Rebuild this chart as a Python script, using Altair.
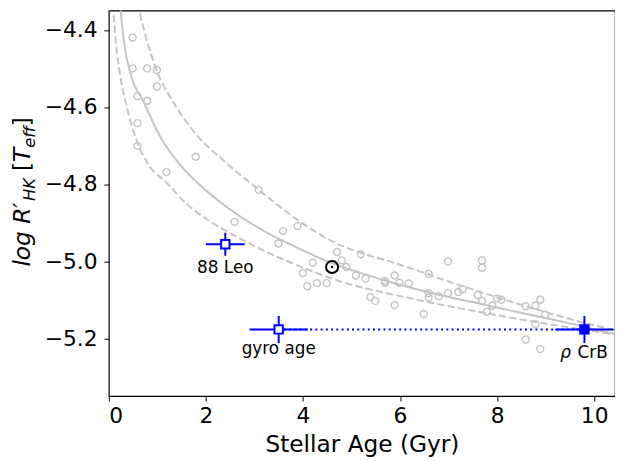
import altair as alt
import pandas as pd

FONT = "DejaVu Sans"
GRAY = "#c4c4c4"
LINEGRAY = "#c4c4c4"
BLUE = "#0000ff"

# ---- background sample of stars (open grey circles) ----
sample_age = [0.49, 0.49, 0.79, 0.99, 0.99, 0.59, 0.79, 0.59, 0.59, 1.79, 1.19,
              3.09, 2.59, 3.59, 3.89, 3.49, 4.70, 5.19, 4.20, 4.80, 4.89, 4.00,
              4.09, 4.29, 4.49, 5.09, 5.29, 5.39, 5.49, 5.69, 5.69, 5.89, 5.99,
              6.18, 5.89, 6.49, 6.59, 6.59, 6.59, 6.80, 6.99, 6.99, 7.20, 7.29,
              7.60, 7.69, 7.69, 7.69, 7.90, 7.79, 8.00, 8.09, 8.59, 8.79, 8.89,
              8.99, 8.79, 8.59, 8.89]
sample_logr = [-4.420, -4.500, -4.500, -4.504, -4.547, -4.572, -4.584, -4.642,
               -4.701, -4.729, -4.769, -4.815, -4.898, -4.922, -4.909, -4.954,
               -4.976, -4.982, -5.004, -4.998, -5.015, -5.031, -5.065, -5.057,
               -5.057, -5.037, -5.045, -5.093, -5.103, -5.051, -5.056, -5.037,
               -5.056, -5.058, -5.114, -5.137, -5.033, -5.083, -5.094, -5.091,
               -5.001, -5.083, -5.080, -5.073, -5.088, -4.998, -5.017, -5.103,
               -5.115, -5.131, -5.097, -5.100, -5.117, -5.115, -5.100, -5.139,
               -5.163, -5.203, -5.228]

# ---- age-activity relation (solid) and its envelope (dashed) ----
fit_age = [0.24, 0.31, 0.45, 0.71, 1.05, 1.50, 1.83, 2.50, 3.20, 3.90, 4.55,
           5.20, 5.90, 6.80, 7.70, 8.80, 9.80, 10.45]
fit_logr = [-4.345, -4.430, -4.515, -4.585, -4.675, -4.755, -4.797, -4.866,
            -4.922, -4.966, -5.003, -5.031, -5.058, -5.087, -5.112, -5.142,
            -5.170, -5.190]

upper_age = [0.64, 0.80, 0.98, 1.34, 1.78, 2.42, 3.09, 3.89, 4.68, 5.19, 5.90,
             7.06, 8.42, 9.50, 10.45]
upper_logr = [-4.357, -4.435, -4.503, -4.590, -4.668, -4.745, -4.815, -4.893,
              -4.953, -4.978, -5.005, -5.055, -5.110, -5.150, -5.180]

lower_age = [0.10, 0.16, 0.23, 0.37, 0.57, 0.84, 1.18, 1.59, 1.83, 2.85, 3.87,
             4.89, 5.80, 7.74, 9.10, 10.45]
lower_logr = [-4.362, -4.450, -4.515, -4.600, -4.686, -4.754, -4.795, -4.850,
              -4.874, -4.951, -5.010, -5.057, -5.085, -5.134, -5.164, -5.190]

# ---- highlighted stars ----
star_name = ["88 Leo", "gyro age", "ρ CrB"]
star_age = [2.4, 3.5, 9.8]
star_age_err = [0.4, 0.6, 0.6]
star_logr = [-4.956, -5.177, -5.177]
star_logr_err = [0.03, 0.035, 0.035]
star_filled = [False, False, True]

sun_age = [4.6]
sun_logr = [-5.015]

# ---- tables ----
sample = pd.DataFrame({"age": sample_age, "logr": sample_logr})
fit = pd.DataFrame({"age": fit_age, "logr": fit_logr, "i": range(len(fit_age))})
upper = pd.DataFrame({"age": upper_age, "logr": upper_logr, "i": range(len(upper_age))})
lower = pd.DataFrame({"age": lower_age, "logr": lower_logr, "i": range(len(lower_age))})
stars = pd.DataFrame({
    "name": star_name, "age": star_age, "logr": star_logr,
    "alo": [a - e for a, e in zip(star_age, star_age_err)],
    "ahi": [a + e for a, e in zip(star_age, star_age_err)],
    "rlo": [r - e for r, e in zip(star_logr, star_logr_err)],
    "rhi": [r + e for r, e in zip(star_logr, star_logr_err)],
    "filled": star_filled,
})
link = pd.DataFrame({"a1": [star_age[1]], "a2": [star_age[2]], "logr": [star_logr[2]]})
sun = pd.DataFrame({"age": sun_age, "logr": sun_logr})

xs = alt.Scale(domain=[0, 10.43], nice=False, zero=False)
ys = alt.Scale(domain=[-5.35, -4.35], nice=False, zero=False)

X = alt.X("age:Q", scale=xs,
          axis=alt.Axis(title="Stellar Age (Gyr)", values=[0, 2, 4, 6, 8, 10], format="d"))
Y = alt.Y("logr:Q", scale=ys,
          axis=alt.Axis(title=None, values=[-5.2, -5.0, -4.8, -4.6, -4.4], format=".1f"))

solid = alt.Chart(fit).mark_line(color=LINEGRAY, strokeWidth=2, clip=True,
                                 interpolate="monotone").encode(
    x=X, y=Y, order="i:Q")
dash_u = alt.Chart(upper).mark_line(color=LINEGRAY, strokeWidth=2, strokeDash=[7.4, 3.2],
                                    clip=True, interpolate="monotone").encode(
    x="age:Q", y="logr:Q", order="i:Q")
dash_l = alt.Chart(lower).mark_line(color=LINEGRAY, strokeWidth=2, strokeDash=[7.4, 3.2],
                                    clip=True, interpolate="monotone").encode(
    x="age:Q", y="logr:Q", order="i:Q")

pts = alt.Chart(sample).mark_point(shape="circle", filled=False, size=50, color=GRAY,
                                   strokeWidth=1.4, opacity=1, clip=True).encode(
    x="age:Q", y="logr:Q")

dotted = alt.Chart(link).mark_rule(color=BLUE, strokeWidth=2, strokeDash=[2, 3.3]).encode(
    x="a1:Q", x2="a2:Q", y="logr:Q")

xerr = alt.Chart(stars).mark_rule(color=BLUE, strokeWidth=2, clip=True).encode(
    x="alo:Q", x2="ahi:Q", y="logr:Q")
yerr = alt.Chart(stars).mark_rule(color=BLUE, strokeWidth=2, clip=True).encode(
    x="age:Q", y="rlo:Q", y2="rhi:Q")

open_sq = alt.Chart(stars).transform_filter("!datum.filled").mark_point(
    shape="square", filled=True, fill="white", stroke=BLUE, strokeWidth=2, size=72, opacity=1).encode(
    x="age:Q", y="logr:Q")
full_sq = alt.Chart(stars).transform_filter("datum.filled").mark_point(
    shape="square", filled=True, color=BLUE, size=110, opacity=1).encode(
    x="age:Q", y="logr:Q")

sun_ring = alt.Chart(sun).mark_point(shape="circle", filled=False, color="black",
                                      strokeWidth=2, size=150, opacity=1).encode(
    x="age:Q", y="logr:Q")
sun_dot = alt.Chart(sun).mark_point(shape="circle", filled=True, color="black",
                                     size=7, opacity=1).encode(
    x="age:Q", y="logr:Q")

lab_style = dict(font=FONT, fontSize=17, color="black", baseline="alphabetic")
lab_leo = alt.Chart(stars.iloc[[0]]).mark_text(align="center", dy=29, **lab_style).encode(
    x="age:Q", y="logr:Q", text="name:N")
lab_gyro = alt.Chart(stars.iloc[[1]]).mark_text(align="center", dy=25, **lab_style).encode(
    x="age:Q", y="logr:Q", text="name:N")
rho_df = pd.DataFrame({"age": [star_age[2]], "logr": [star_logr[2]],
                       "g": [star_name[2].split(" ")[0]], "t": [star_name[2].split(" ")[1]]})
lab_rho1 = alt.Chart(rho_df).mark_text(align="center", dx=-19, dy=29, fontStyle="italic", **lab_style).encode(
    x="age:Q", y="logr:Q", text="g:N")
lab_rho2 = alt.Chart(rho_df).mark_text(align="left", dx=-7, dy=29, **lab_style).encode(
    x="age:Q", y="logr:Q", text="t:N")

# ---- y-axis title built from pieces (log R'_HK [T_eff]) ----
title_parts = ["log R′", "HK", "[", "T", "eff", "]"]
big, small = 23.5, 16.5
part_size = [big, small, big, big, small, big]
part_style = ["italic", "italic", "normal", "italic", "italic", "normal"]
part_width = [66.5, 23.2, 9.2, 14.4, 21.8, 9.2]
part_gap = [0, 0, 7, 0, 0, 0]
part_base = [-80, -75, -80, -80, -75, -80]
title_layers = []
ypos = 259.0
for txt, sz, st, w, gap, bx in zip(title_parts, part_size, part_style, part_width, part_gap, part_base):
    ypos -= gap
    title_layers.append(
        alt.Chart(pd.DataFrame({"t": [txt]})).mark_text(
            font=FONT, fontSize=sz, fontStyle=st, angle=270, align="left",
            baseline="alphabetic", color="black").encode(
            text="t:N", x=alt.value(bx), y=alt.value(ypos)))
    ypos -= w

chart = alt.layer(
    solid, dash_u, dash_l, pts, dotted, xerr, yerr, open_sq, full_sq,
    sun_ring, sun_dot, lab_leo, lab_gyro, lab_rho1, lab_rho2, *title_layers
).properties(
    width=512, height=390,
    autosize=alt.AutoSizeParams(type="none"),
    padding={"left": 102, "top": 0, "right": 0, "bottom": 62},
).configure_view(
    stroke="black", strokeWidth=1.2
).configure_axis(
    domain=False, grid=False, ticks=True, tickColor="black", tickSize=5, tickWidth=1,
    labelFont=FONT, labelFontSize=22, labelColor="black",
    titleFont=FONT, titleFontSize=23.5, titleColor="black", titleFontWeight="normal",
).configure_axisX(
    labelPadding=5, titlePadding=6,
).configure_axisY(
    labelPadding=7,
)

chart.save("out.html", embed_options={"renderer": "svg", "actions": False})
